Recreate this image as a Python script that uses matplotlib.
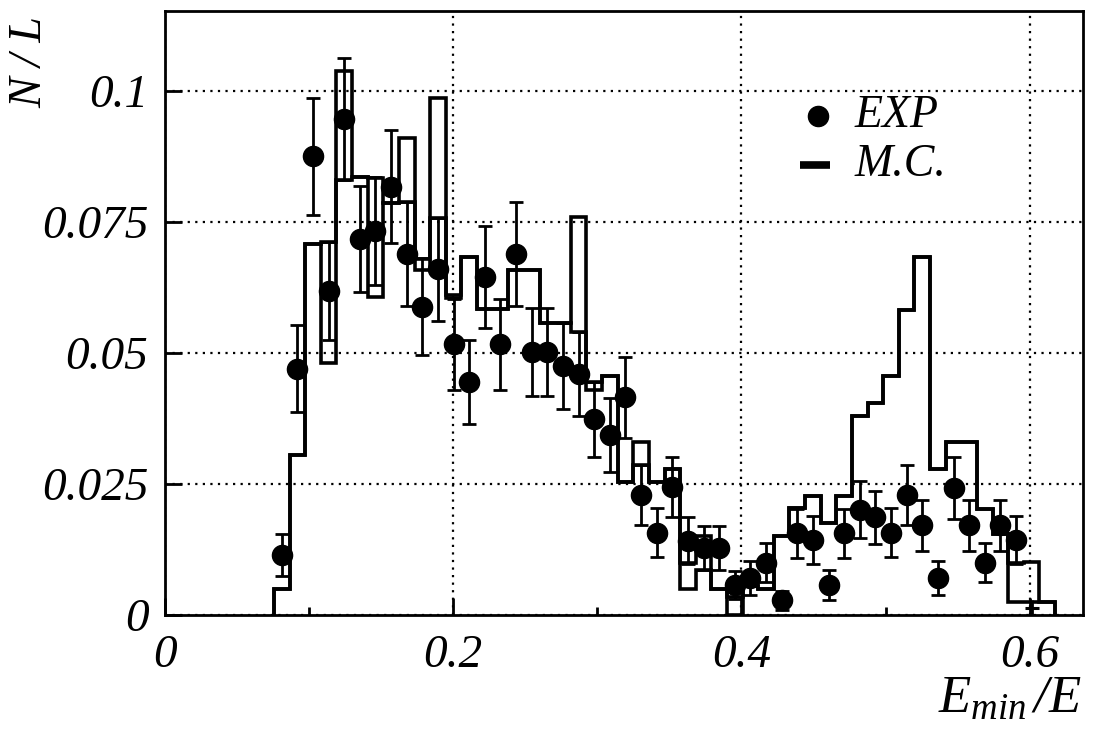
import numpy as np
import matplotlib
matplotlib.use("Agg")
import matplotlib.pyplot as plt

# Binning of the E_min/E spectrum
bin_start = 0.0756
bin_width = 0.01084
n_bins = 50

# Measured spectrum (one entry per bin, last bin empty)
exp_val = [0.0114, 0.0470, 0.0875, 0.0618, 0.0946, 0.0717, 0.0732, 0.0817, 0.0688, 0.0588,
           0.0659, 0.0516, 0.0445, 0.0645, 0.0516, 0.0689, 0.0502, 0.0502, 0.0474, 0.0459,
           0.0373, 0.0343, 0.0415, 0.0229, 0.0157, 0.0244, 0.0142, 0.0128, 0.0128, 0.0057,
           0.0071, 0.0100, 0.0028, 0.0156, 0.0143, 0.0057, 0.0156, 0.0201, 0.0186, 0.0157,
           0.0229, 0.0171, 0.0071, 0.0243, 0.0171, 0.0100, 0.0171, 0.0143, 0.0013]
exp_err = [0.0040, 0.0083, 0.0112, 0.0094, 0.0117, 0.0101, 0.0103, 0.0108, 0.0099, 0.0092,
           0.0098, 0.0087, 0.0080, 0.0097, 0.0087, 0.0099, 0.0084, 0.0084, 0.0082, 0.0080,
           0.0072, 0.0070, 0.0077, 0.0057, 0.0047, 0.0058, 0.0044, 0.0042, 0.0042, 0.0027,
           0.0032, 0.0037, 0.0018, 0.0047, 0.0045, 0.0028, 0.0047, 0.0054, 0.0051, 0.0047,
           0.0057, 0.0049, 0.0032, 0.0059, 0.0049, 0.0037, 0.0049, 0.0045, 0.0015]

# Monte Carlo prediction, lower and upper histogram
mc_lo = [0.0049, 0.0305, 0.0708, 0.0480, 0.0830, 0.0836, 0.0607, 0.0785, 0.0787, 0.0658,
         0.0757, 0.0605, 0.0682, 0.0583, 0.0583, 0.0658, 0.0658, 0.0556, 0.0556, 0.0539,
         0.0430, 0.0455, 0.0253, 0.0286, 0.0253, 0.0278, 0.0050, 0.0085, 0.0050, 0.0000,
         0.0055, 0.0050, 0.0151, 0.0205, 0.0227, 0.0176, 0.0227, 0.0380, 0.0405, 0.0456,
         0.0582, 0.0683, 0.0278, 0.0330, 0.0330, 0.0203, 0.0155, 0.0025, 0.0025, 0.0025]
mc_hi = [0.0049, 0.0305, 0.0708, 0.0711, 0.1038, 0.0836, 0.0834, 0.0785, 0.0910, 0.0679,
         0.0987, 0.0610, 0.0682, 0.0583, 0.0583, 0.0658, 0.0658, 0.0556, 0.0556, 0.0760,
         0.0445, 0.0455, 0.0253, 0.0329, 0.0253, 0.0278, 0.0099, 0.0151, 0.0050, 0.0035,
         0.0055, 0.0050, 0.0151, 0.0205, 0.0227, 0.0176, 0.0227, 0.0380, 0.0405, 0.0456,
         0.0582, 0.0683, 0.0278, 0.0330, 0.0330, 0.0203, 0.0155, 0.0099, 0.0102, 0.0025]

x_ticks = [0, 0.2, 0.4, 0.6]
x_ticklabels = ["0", "0.2", "0.4", "0.6"]
x_minor = [0.1, 0.3, 0.5]
y_ticks = [0, 0.025, 0.05, 0.075, 0.1]
y_ticklabels = ["0", "0.025", "0.05", "0.075", "0.1"]

plt.rcParams["font.family"] = ["Liberation Serif", "DejaVu Serif"]
plt.rcParams["font.style"] = "italic"
plt.rcParams["mathtext.fontset"] = "custom"
plt.rcParams["mathtext.rm"] = "Liberation Serif:italic"
plt.rcParams["mathtext.it"] = "Liberation Serif:italic"

edges = bin_start + bin_width * np.arange(n_bins + 1)
centers = 0.5 * (edges[:-1] + edges[1:])
exp_val = np.array(exp_val)
exp_err = np.array(exp_err)
x_exp = centers[:len(exp_val)]

fig = plt.figure(figsize=(11.02, 7.29), dpi=100)
ax = fig.add_axes([0.1497, 0.1564, 0.8331, 0.8285])

# MC histograms
ax.stairs(mc_hi, edges, color="k", lw=2.6, zorder=2)
ax.stairs(mc_lo, edges, color="k", lw=2.6, zorder=2)

# data points; near-empty bins get a bare error cross
big = exp_val > 0.002
ax.errorbar(x_exp[big], exp_val[big], yerr=exp_err[big], fmt="o", color="k",
            ms=14.5, capsize=5.2, elinewidth=2, capthick=2, zorder=3)
ax.errorbar(x_exp[~big], exp_val[~big], yerr=exp_err[~big], fmt="_", color="k",
            ms=10, mew=2.2, elinewidth=2, capsize=0, zorder=3)

ax.set_xlim(0, 0.637)
ax.set_ylim(0, 0.1152)
ax.set_xticks(x_ticks)
ax.set_xticklabels(x_ticklabels)
ax.set_xticks(x_minor, minor=True)
ax.set_yticks(y_ticks)
ax.set_yticklabels(y_ticklabels)
ax.tick_params(which="major", direction="in", length=12, width=2, labelsize=34)
ax.tick_params(which="minor", direction="in", length=6, width=2)
ax.tick_params(axis="x", pad=14)
ax.tick_params(axis="y", pad=12)
for sp in ax.spines.values():
    sp.set_linewidth(2)

ax.grid(True, which="major", color="k", linestyle=(0, (1, 2.4)), lw=1.6)

# legend
ax.plot([0.7113], [0.826], "o", color="k", ms=14.5, transform=ax.transAxes)
ax.text(0.7516, 0.826, "EXP", transform=ax.transAxes, va="center", ha="left", fontsize=33)
ax.plot([0.6917, 0.7244], [0.745, 0.745], color="k", lw=5.5, solid_capstyle="butt",
        transform=ax.transAxes)
ax.text(0.7516, 0.745, "M.C.", transform=ax.transAxes, va="center", ha="left", fontsize=33)

fig.text(30 / 1102, 1 - 62 / 729, "N / L", rotation=90, ha="center", va="center", fontsize=33)
fig.text(1082 / 1102, 1 - 700 / 729, r"$E_{min}\,/E$", ha="right", va="center", fontsize=38)

fig.savefig("out.png", dpi=100)
